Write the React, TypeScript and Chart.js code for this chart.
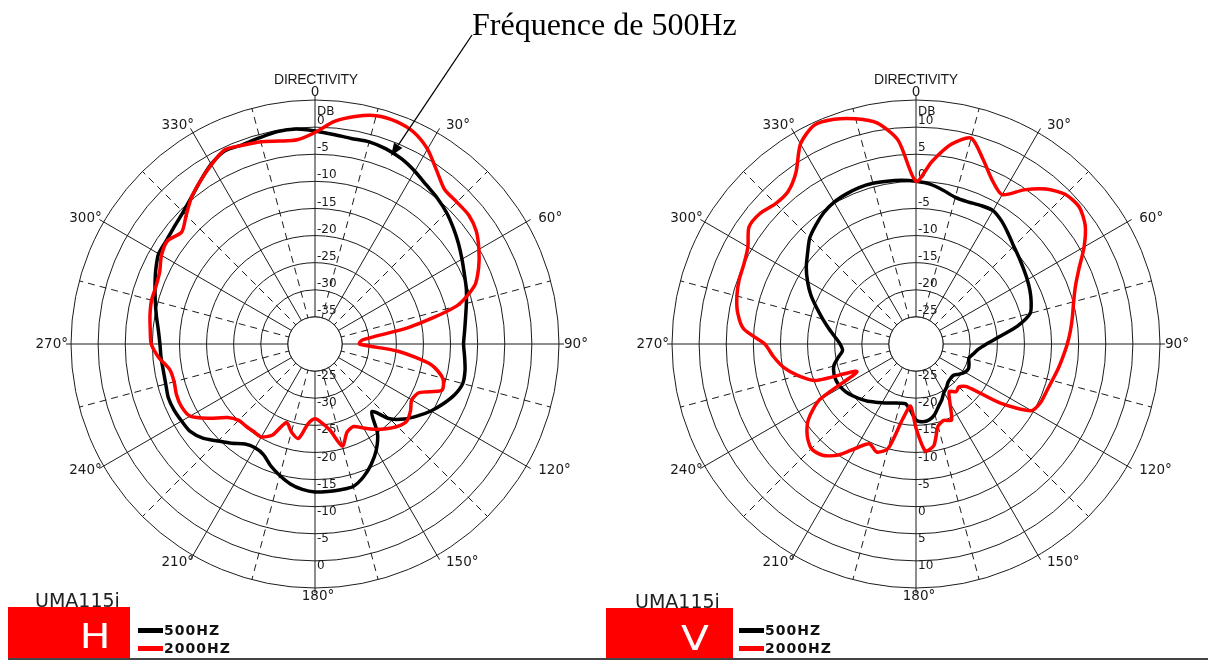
import React, { useEffect, useRef } from 'react';
import { Chart, registerables } from 'chart.js';

Chart.register(...registerables);

// ---------- data (dB values every 5°, clockwise from 0° at the top) ----------
const ANGLES: number[] = [
  0, 5, 10, 15, 20, 25, 30, 35, 40, 45, 50, 55, 60, 65, 70, 75, 80, 85,
  90, 95, 100, 105, 110, 115, 120, 125, 130, 135, 140, 145, 150, 155, 160, 165, 170, 175,
  180, 185, 190, 195, 200, 205, 210, 215, 220, 225, 230, 235, 240, 245, 250, 255, 260, 265,
  270, 275, 280, 285, 290, 295, 300, 305, 310, 315, 320, 325, 330, 335, 340, 345, 350, 355,
];

// Horizontal plane (H)
const H_500HZ: number[] = [
  -0.7, -1.2, -1.5, -1.4, -1.7, -2.3, -3.2, -4.2, -4.9, -5.7, -6.7, -7.7, -8.7, -9.6, -10.3, -11.1, -11.8, -12.3,
  -12.6, -12.3, -11.9, -11.8, -12.6, -13.9, -15.3, -16.9, -18.5, -20.5, -23.7, -19.9, -17.4, -15.5, -13.9, -12.8, -12.7, -12.7,
  -12.7, -13.1, -13.8, -14.9, -16.1, -17.5, -17.9, -17.5, -16.1, -14.7, -13.0, -11.9, -11.6, -11.3, -11.2, -11.5, -11.6, -11.5,
  -11.4, -11.0, -10.3, -9.5, -8.6, -7.6, -6.7, -6.6, -6.2, -5.6, -4.6, -3.2, -1.7, -0.7, -0.9, -0.6, -0.2, -0.2,
];
const H_2000HZ: number[] = [
  -1.0, 1.2, 2.6, 3.6, 3.7, 3.1, 1.5, -0.9, -2.8, -3.0, -3.0, -3.7, -5.1, -6.7, -8.7, -13.0, -22.4, -31.2,
  -31.8, -24.6, -18.3, -15.6, -15.1, -18.8, -19.4, -18.5, -17.9, -18.5, -19.6, -20.8, -22.1, -23.2, -22.7, -20.5, -23.8, -25.4,
  -26.2, -25.2, -22.3, -23.2, -24.6, -21.5, -20.2, -20.3, -20.2, -20.1, -18.9, -16.1, -13.4, -12.8, -12.8, -13.1, -12.8, -11.1,
  -9.8, -9.5, -9.1, -8.8, -8.8, -8.4, -7.3, -6.8, -7.9, -6.4, -4.6, -3.2, -1.8, -0.5, -1.0, -1.4, -2.0, -2.2,
];

// Vertical plane (V)
const V_500HZ: number[] = [
  0.0, -0.4, -1.2, -2.0, -2.1, -1.8, -1.6, -2.4, -3.5, -4.5, -5.2, -5.8, -6.3, -6.8, -7.4, -8.2, -11.0, -14.6,
  -17.0, -18.5, -19.3, -19.9, -19.6, -19.3, -19.6, -20.3, -21.0, -21.0, -20.8, -20.2, -19.7, -18.7, -17.8, -16.6, -15.8, -15.6,
  -16.0, -17.8, -18.8, -18.7, -18.4, -18.0, -17.5, -16.9, -16.2, -15.6, -15.0, -14.4, -14.0, -13.8, -13.9, -14.3, -15.4, -16.4,
  -16.0, -15.0, -13.7, -12.2, -10.5, -8.6, -6.9, -5.3, -3.9, -2.3, -1.3, -0.4, 0.2, 0.5, 0.7, 0.7, 0.5, 0.3,
];
const V_2000HZ: number[] = [
  0.0, 3.8, 7.4, 9.3, 6.2, 3.3, 1.8, 4.7, 7.3, 9.0, 9.3, 8.1, 5.8, 3.2, 1.3, 0.1, -0.7, -1.4,
  -2.1, -2.8, -3.4, -4.0, -4.4, -4.6, -5.4, -11.0, -17.8, -18.8, -18.5, -19.3, -17.5, -14.5, -15.0, -14.3, -11.0, -10.2,
  -14.5, -18.5, -16.0, -10.0, -8.8, -9.7, -7.8, -5.0, -3.2, -2.7, -3.8, -5.8, -9.5, -18.0, -10.3, -7.5, -5.2, -3.6,
  -2.1, 1.9, 3.4, 4.2, 4.7, 5.0, 5.8, 7.6, 7.5, 6.6, 6.7, 8.6, 12.6, 14.5, 14.1, 13.0, 11.4, 7.7,
];

// ---------- labels ----------
const ANGLE_LABEL_DEGREES: number[] = [0, 30, 60, 90, 120, 150, 180, 210, 240, 270, 300, 330];
const ANGLE_LABEL_TEXT: string[] = ['0', '30°', '60°', '90°', '120°', '150°', '180°', '210°', '240°', '270°', '300°', '330°'];

const H_RINGS_TOP: number[] = [0, -5, -10, -15, -20, -25, -30, -35];
const H_TICKS_TOP: string[] = ['0', '-5', '-10', '-15', '-20', '-25', '-30', '-35'];
const H_RINGS_BOTTOM: number[] = [-35, -30, -25, -20, -15, -10, -5, 0];
const H_TICKS_BOTTOM: string[] = ['-25', '-30', '-25', '-20', '-15', '-10', '-5', '0'];

const V_RINGS_TOP: number[] = [10, 5, 0, -5, -10, -15, -20, -25];
const V_TICKS_TOP: string[] = ['10', '5', '0', '-5', '-10', '-15', '-20', '-25'];
const V_RINGS_BOTTOM: number[] = [-25, -20, -15, -10, -5, 0, 5, 10];
const V_TICKS_BOTTOM: string[] = ['-25', '-20', '-15', '-10', '-5', '0', '5', '10'];

const SERIES_NAMES: string[] = ['500HZ', '2000HZ'];
const SERIES_COLORS: string[] = ['#000000', '#ff0000'];

const GRID = '#1c1c1c';
const LABEL_FONT = '"DejaVu Sans", "Liberation Sans", sans-serif';

type PolarCfg = {
  min: number;
  max: number;
  inner: number;
  black: number[];
  red: number[];
  topRings: number[];
  topTicks: string[];
  bottomRings: number[];
  bottomTicks: string[];
  padding: { left: number; right: number; top: number; bottom: number };
  arrow?: { from: [number, number]; to: [number, number] };
};

function decorPlugin(cfg: PolarCfg) {
  return {
    id: 'polarDecor',
    beforeDatasetsDraw(chart: any) {
      const s: any = chart.scales.r;
      const ctx: CanvasRenderingContext2D = chart.ctx;
      const cx = s.xCenter;
      const cy = s.yCenter;
      const R = s.drawingArea;
      ctx.save();
      ctx.strokeStyle = GRID;
      ctx.lineWidth = 1;
      ctx.setLineDash([]);
      // short extensions of the main radial lines
      ANGLE_LABEL_DEGREES.forEach((d) => {
        const i = ANGLES.indexOf(d);
        const a = s.getPointPosition(i, R);
        const b = s.getPointPosition(i, R + 5);
        ctx.beginPath();
        ctx.moveTo(a.x, a.y);
        ctx.lineTo(b.x, b.y);
        ctx.stroke();
      });
      // blank inner disc
      const rin = s.getDistanceFromCenterForValue(cfg.inner);
      ctx.beginPath();
      ctx.arc(cx, cy, rin, 0, Math.PI * 2);
      ctx.fillStyle = '#ffffff';
      ctx.fill();
      ctx.stroke();
      // dB labels along the vertical axis
      ctx.fillStyle = '#1a1a1a';
      ctx.font = `12px ${LABEL_FONT}`;
      ctx.textAlign = 'left';
      ctx.textBaseline = 'middle';
      cfg.topRings.forEach((v, k) => {
        const r = s.getDistanceFromCenterForValue(v);
        ctx.fillText(cfg.topTicks[k], cx + 2, cy - r - 6);
      });
      const r0 = s.getDistanceFromCenterForValue(cfg.topRings[0]);
      ctx.fillText('DB', cx + 2, cy - r0 - 15);
      cfg.bottomRings.forEach((v, k) => {
        const r = s.getDistanceFromCenterForValue(v);
        ctx.fillText(cfg.bottomTicks[k], cx + 2, cy + r + 5);
      });
      // angle labels
      ctx.font = `13.5px ${LABEL_FONT}`;
      ANGLE_LABEL_DEGREES.forEach((d, k) => {
        const i = ANGLES.indexOf(d);
        const p = s.getPointPosition(i, R + 8);
        let x = p.x;
        let align: CanvasTextAlign = 'center';
        if (d === 0) {
          align = 'center';
        } else if (d === 180) {
          align = 'center';
          x += 3;
        } else if (d < 180) {
          align = 'left';
          x += d === 90 ? -3 : 5;
        } else {
          align = 'right';
          x += 5;
        }
        ctx.textAlign = align;
        ctx.fillText(ANGLE_LABEL_TEXT[k], x, p.y);
      });
      ctx.restore();
    },
    afterDraw(chart: any) {
      if (!cfg.arrow) return;
      const ctx: CanvasRenderingContext2D = chart.ctx;
      const [x0, y0] = cfg.arrow.from;
      const [x1, y1] = cfg.arrow.to;
      const dx = x1 - x0;
      const dy = y1 - y0;
      const len = Math.hypot(dx, dy);
      const ux = dx / len;
      const uy = dy / len;
      const bx = x1 - ux * 13;
      const by = y1 - uy * 13;
      ctx.save();
      ctx.strokeStyle = '#000';
      ctx.fillStyle = '#000';
      ctx.lineWidth = 1.3;
      ctx.beginPath();
      ctx.moveTo(x0, y0);
      ctx.lineTo(bx, by);
      ctx.stroke();
      ctx.beginPath();
      ctx.moveTo(x1, y1);
      ctx.lineTo(bx + uy * 5, by - ux * 5);
      ctx.lineTo(bx - uy * 5, by + ux * 5);
      ctx.closePath();
      ctx.fill();
      ctx.restore();
    },
  };
}

function buildChart(canvas: HTMLCanvasElement, cfg: PolarCfg) {
  return new Chart(canvas, {
    type: 'radar',
    data: {
      labels: ANGLES.map((a) => String(a)),
      datasets: [
        {
          label: SERIES_NAMES[0],
          data: cfg.black,
          borderColor: SERIES_COLORS[0],
          backgroundColor: 'rgba(0,0,0,0)',
          borderWidth: 3.5,
          pointRadius: 0,
          fill: false,
          tension: 0.25,
          order: 2,
        },
        {
          label: SERIES_NAMES[1],
          data: cfg.red,
          borderColor: SERIES_COLORS[1],
          backgroundColor: 'rgba(0,0,0,0)',
          borderWidth: 3.5,
          pointRadius: 0,
          fill: false,
          tension: 0.25,
          order: 1,
        },
      ],
    },
    options: {
      responsive: false,
      animation: false,
      devicePixelRatio: 1,
      layout: { padding: cfg.padding },
      elements: { line: { borderJoinStyle: 'round', borderCapStyle: 'round' } },
      plugins: {
        legend: { display: false },
        tooltip: { enabled: false },
        title: { display: false },
      },
      scales: {
        r: {
          min: cfg.min,
          max: cfg.max,
          startAngle: 0,
          ticks: { display: false, stepSize: 5 },
          pointLabels: { display: false },
          grid: { circular: true, color: GRID, lineWidth: 1 },
          angleLines: {
            display: true,
            color: GRID,
            lineWidth: (c: any) => (c.index % 3 === 0 ? 1 : 0),
            borderDash: (c: any) => (c.index % 6 === 3 ? [7, 5] : []),
          },
        },
      },
    } as any,
    plugins: [decorPlugin(cfg) as any],
  });
}

type TxtProps = {
  x: number;
  y: number;
  text: string;
  size: number;
  family: string;
  align?: 'left' | 'center';
  color?: string;
  weight?: string | number;
  ls?: number;
  sx?: number;
};

function Txt(p: TxtProps) {
  const style: React.CSSProperties = {
    position: 'absolute',
    top: p.y - p.size / 2,
    fontSize: p.size,
    lineHeight: `${p.size}px`,
    fontFamily: p.family,
    color: p.color || '#111',
    fontWeight: p.weight || 'normal',
    letterSpacing: p.ls ? `${p.ls}px` : undefined,
    whiteSpace: 'nowrap',
    transform: p.sx ? `scaleX(${p.sx})` : undefined,
  };
  if (p.align === 'center') {
    style.left = p.x - 200;
    style.width = 400;
    style.textAlign = 'center';
  } else {
    style.left = p.x;
  }
  return <div style={style}>{p.text}</div>;
}

function Legend({ x }: { x: number }) {
  return (
    <>
      <div style={{ position: 'absolute', left: x, top: 628, width: 25, height: 5, background: SERIES_COLORS[0] }} />
      <div style={{ position: 'absolute', left: x, top: 646, width: 25, height: 5, background: SERIES_COLORS[1] }} />
      <Txt x={x + 26} y={630} text={SERIES_NAMES[0]} size={14} family={LABEL_FONT} weight="bold" ls={1} color="#111" />
      <Txt x={x + 26} y={648} text={SERIES_NAMES[1]} size={14} family={LABEL_FONT} weight="bold" ls={1} color="#111" />
    </>
  );
}

export default function App() {
  const leftRef = useRef<HTMLCanvasElement | null>(null);
  const rightRef = useRef<HTMLCanvasElement | null>(null);

  useEffect(() => {
    if (!leftRef.current || !rightRef.current) return;
    const left = buildChart(leftRef.current, {
      min: -40,
      max: 5,
      inner: -35,
      black: H_500HZ,
      red: H_2000HZ,
      topRings: H_RINGS_TOP,
      topTicks: H_TICKS_TOP,
      bottomRings: H_RINGS_BOTTOM,
      bottomTicks: H_TICKS_BOTTOM,
      padding: { left: 71, right: 45, top: 100, bottom: 73 },
      arrow: { from: [472, 35], to: [391, 156] },
    });
    const right = buildChart(rightRef.current, {
      min: -30,
      max: 15,
      inner: -25,
      black: V_500HZ,
      red: V_2000HZ,
      topRings: V_RINGS_TOP,
      topTicks: V_TICKS_TOP,
      bottomRings: V_RINGS_BOTTOM,
      bottomTicks: V_TICKS_BOTTOM,
      padding: { left: 68, right: 48, top: 100, bottom: 73 },
    });
    return () => {
      left.destroy();
      right.destroy();
    };
  }, []);

  return (
    <div style={{ position: 'fixed', left: 0, top: 0, width: 1208, height: 661, background: '#fff', overflow: 'hidden' }}>
      <canvas ref={leftRef} width={604} height={661} style={{ position: 'absolute', left: 0, top: 0 }} />
      <canvas ref={rightRef} width={604} height={661} style={{ position: 'absolute', left: 604, top: 0 }} />

      <div
        style={{
          position: 'absolute',
          left: 472,
          top: 8,
          fontSize: 32,
          lineHeight: '32px',
          fontFamily: '"Liberation Serif", "Times New Roman", serif',
          color: '#000',
          whiteSpace: 'nowrap',
        }}
      >
        Fréquence de 500Hz
      </div>

      <Txt x={316} y={79} text="DIRECTIVITY" size={14} family='"Liberation Sans", sans-serif' align="center" color="#1a1a1a" ls={-0.3} />
      <Txt x={916} y={79} text="DIRECTIVITY" size={14} family='"Liberation Sans", sans-serif' align="center" color="#1a1a1a" ls={-0.3} />

      <Txt x={35} y={600} text="UMA115i" size={19} family={LABEL_FONT} color="#222" />
      <Txt x={635} y={601} text="UMA115i" size={19} family={LABEL_FONT} color="#222" />

      <div style={{ position: 'absolute', left: 8, top: 607, width: 122, height: 53, background: '#ff0000' }} />
      <div style={{ position: 'absolute', left: 606, top: 608, width: 127, height: 52, background: '#ff0000' }} />
      <Txt x={95} y={636} text="H" size={34} family={LABEL_FONT} align="center" color="#fff" sx={1.2} />
      <Txt x={695} y={638} text="V" size={34} family={LABEL_FONT} align="center" color="#fff" sx={1.2} />

      <Legend x={138} />
      <Legend x={739} />

      <div style={{ position: 'absolute', left: 8, top: 658, width: 1200, height: 2, background: '#444' }} />
    </div>
  );
}
